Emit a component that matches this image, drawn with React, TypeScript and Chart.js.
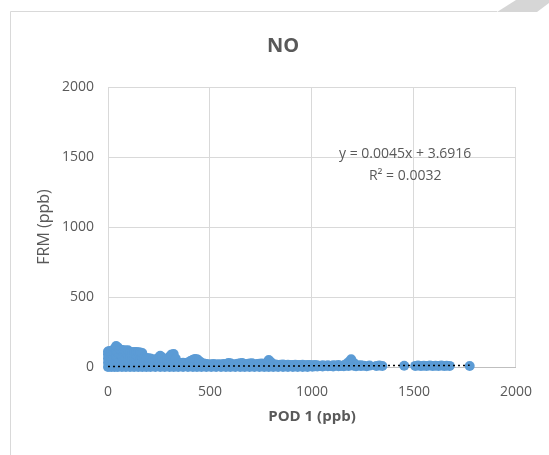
import React, { useEffect, useRef } from "react";
import { Chart, registerables } from "chart.js";

Chart.register(...registerables);

const chartTitle = "NO";
const xAxisTitle = "POD 1 (ppb)";
const yAxisTitle = "FRM (ppb)";
const axisMin = 0;
const axisMax = 2000;
const axisStep = 500;
const equationLines = ["y = 0.0045x + 3.6916", "R² = 0.0032"];

// Linear trendline end points (from x-min to x-max of the data)
const trendX = [0, 1773];
const trendY = [3.69, 11.67];

// POD 1 readings (ppb), grouped by nearby x; FRM values (ppb) for each group
const podColumns = [
  0, 8, 16, 25, 32, 40, 48, 58, 68, 78, 88, 98, 108, 118, 128, 138, 148, 158, 168,
  178, 188, 198, 208, 220, 232, 244, 256, 266, 278, 290, 302, 312, 322, 332, 344,
  356, 368, 380, 392, 404, 416, 426, 436, 446, 458, 470, 482, 494, 506, 518, 530,
  542, 554, 566, 578, 590, 600, 612, 624, 636, 648, 658, 670, 682, 694, 706, 718,
  730, 742, 754, 766, 778, 788, 798, 810, 822, 834, 846, 858, 870, 882, 894, 906,
  918, 930, 942, 954, 966, 978, 990, 1002, 1014, 1026, 1040, 1052, 1064, 1078, 1090,
  1104, 1116, 1130, 1142, 1156, 1168, 1180, 1192, 1204, 1216, 1228, 1240, 1254, 1268,
  1282, 1315, 1330, 1345, 1452, 1506, 1520, 1534, 1548, 1562, 1578, 1592, 1606, 1620,
  1634, 1648, 1660, 1675, 1773,
];

const frmByColumn = [
  [0, 30, 60, 90, 110], [5, 40, 75, 115], [0, 35, 70, 100, 112], [10, 50, 85, 120],
  [0, 30, 65, 100, 132], [5, 45, 80, 115, 150], [0, 35, 70, 105, 140], [10, 50, 90, 125],
  [0, 40, 80, 122], [5, 45, 85, 120], [0, 35, 70, 105, 118], [10, 50, 90, 120],
  [0, 40, 75, 108], [5, 45, 85, 106], [0, 35, 70, 107], [8, 48, 88, 108],
  [0, 40, 75, 106], [5, 45, 85, 104], [0, 35, 70, 100], [6, 40, 70],
  [0, 35, 65], [5, 40, 62], [0, 30, 60], [5, 35, 55],
  [0, 25, 45], [8, 40, 62], [0, 35, 80], [5, 40, 68],
  [0, 25, 45], [5, 35, 52], [0, 40, 75], [8, 45, 90],
  [0, 35, 93], [5, 40, 60], [0, 20, 32], [6, 28],
  [0, 25, 30], [8, 28], [0, 20, 32], [5, 30, 42],
  [0, 35, 52], [8, 40, 57], [0, 30, 56], [5, 25, 45],
  [0, 20, 30], [5, 25], [0, 20, 22], [6, 18],
  [0, 15, 20], [5, 22], [0, 18], [8, 20],
  [0, 15, 18], [5, 22], [0, 16, 20], [6, 28],
  [0, 20, 26], [5, 18], [0, 15, 20], [8, 24],
  [0, 18, 26], [5, 28], [0, 20], [6, 22],
  [0, 18, 25], [5, 26], [0, 16], [8, 22],
  [0, 20, 24], [5, 25], [0, 18], [6, 30],
  [0, 25, 50], [8, 35], [0, 20], [5, 18],
  [0, 15], [8, 16], [0, 18], [5, 14],
  [0, 16], [8, 15], [0, 14], [5, 16],
  [0, 15], [8, 14], [0, 16], [5, 13],
  [0, 15], [8, 14], [2, 12], [6, 14],
  [3, 12], [8], [4, 12], [9],
  [5, 13], [8], [4, 12], [10],
  [5, 14], [8], [6, 12], [10, 22],
  [8, 35], [12, 55], [9, 30], [6, 14],
  [10], [7, 12], [9], [6],
  [10], [8], [10], [7],
  [9], [8], [10], [7],
  [9], [8], [10], [7],
  [9], [8], [10], [7],
  [9], [8], [7],
];

const FONT = "'Open Sans', 'DejaVu Sans', sans-serif";
const TEXT = "#595959";
const GRID = "#D9D9D9";
const BLUE = "#5B9BD5";

const W = 549;
const H = 455;

const decorPlugin = {
  id: "decor",
  beforeDraw(chart: any) {
    const ctx = chart.ctx;
    ctx.save();
    ctx.fillStyle = "#ffffff";
    ctx.fillRect(0, 0, W, H);
    // outer chart frame
    ctx.strokeStyle = GRID;
    ctx.lineWidth = 1;
    ctx.beginPath();
    ctx.moveTo(10.5, H);
    ctx.lineTo(10.5, 11.5);
    ctx.lineTo(497, 11.5);
    ctx.stroke();
    // page-corner decoration
    ctx.fillStyle = "#D6D6D6";
    ctx.beginPath();
    ctx.moveTo(497, 12);
    ctx.lineTo(516, 0);
    ctx.lineTo(549, 0);
    ctx.lineTo(549, 3);
    ctx.lineTo(537, 12);
    ctx.closePath();
    ctx.fill();
    // title
    ctx.fillStyle = TEXT;
    ctx.font = `bold 20px ${FONT}`;
    ctx.textAlign = "center";
    ctx.textBaseline = "middle";
    ctx.fillText(chartTitle, 283, 46);
    ctx.restore();
  },
  afterDatasetsDraw(chart: any) {
    const ctx = chart.ctx;
    const xs = chart.scales.x;
    const ys = chart.scales.y;
    ctx.save();
    ctx.fillStyle = TEXT;
    ctx.font = `14px ${FONT}`;
    ctx.textAlign = "center";
    ctx.textBaseline = "middle";
    const cx = xs.getPixelForValue(1457);
    ctx.fillText(equationLines[0], cx, ys.getPixelForValue(1521));
    ctx.fillText(equationLines[1], cx, ys.getPixelForValue(1364));
    ctx.restore();
  },
};

export default function App() {
  const ref = useRef<HTMLCanvasElement | null>(null);

  useEffect(() => {
    if (!ref.current) return;
    const points: { x: number; y: number }[] = [];
    podColumns.forEach((px, i) => {
      frmByColumn[i].forEach((v) => points.push({ x: px, y: v }));
    });
    const trend = trendX.map((x, i) => ({ x, y: trendY[i] }));
    const plain = (v: any) => String(v);

    const chart = new Chart(ref.current, {
      type: "scatter",
      data: {
        datasets: [
          {
            type: "line",
            label: "Linear (trend)",
            data: trend,
            borderColor: "#000000",
            borderWidth: 1.5,
            borderDash: [2, 3],
            pointRadius: 0,
            showLine: true,
            fill: false,
            clip: false,
          } as any,
          {
            label: "FRM",
            data: points,
            pointRadius: 5,
            pointHoverRadius: 5,
            pointBackgroundColor: BLUE,
            pointBorderColor: BLUE,
            pointBorderWidth: 0,
            backgroundColor: BLUE,
            borderColor: BLUE,
            clip: false,
          } as any,
        ],
      },
      options: {
        responsive: false,
        animation: false,
        devicePixelRatio: 1,
        layout: { padding: { left: 0, right: 25, top: 87, bottom: 0 } },
        plugins: {
          legend: { display: false },
          tooltip: { enabled: false },
          title: { display: false },
        },
        scales: {
          x: {
            type: "linear",
            min: axisMin,
            max: axisMax,
            afterFit: (s: any) => {
              s.height = 88;
            },
            ticks: {
              stepSize: axisStep,
              color: TEXT,
              font: { family: FONT, size: 14 },
              padding: 17,
              maxRotation: 0,
              callback: plain,
            },
            grid: { color: GRID, drawTicks: false, lineWidth: 1 },
            border: { color: "#BFBFBF", width: 1 },
            title: {
              display: true,
              text: xAxisTitle,
              color: TEXT,
              font: { family: FONT, size: 15, weight: "bold" },
              padding: { top: 0, bottom: 29 },
            },
          },
          y: {
            type: "linear",
            min: axisMin,
            max: axisMax,
            afterFit: (s: any) => {
              s.width = 108;
            },
            ticks: {
              stepSize: axisStep,
              color: TEXT,
              font: { family: FONT, size: 14 },
              padding: 14,
              callback: plain,
            },
            grid: { color: GRID, drawTicks: false, lineWidth: 1 },
            border: { color: GRID, width: 1 },
            title: {
              display: true,
              text: yAxisTitle,
              color: TEXT,
              font: { family: FONT, size: 16 },
              padding: { top: 35, bottom: 0 },
            },
          },
        },
      },
      plugins: [decorPlugin],
    });
    return () => chart.destroy();
  }, []);

  return (
    <div
      style={{
        position: "fixed",
        left: 0,
        top: 0,
        width: W,
        height: H,
        background: "#fff",
      }}
    >
      <canvas ref={ref} width={W} height={H} style={{ display: "block", width: W, height: H }} />
    </div>
  );
}
